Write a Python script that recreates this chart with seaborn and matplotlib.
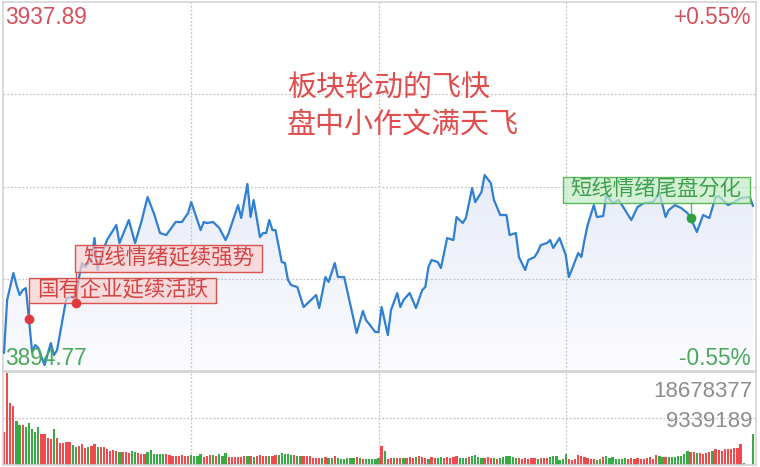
import numpy as np
import pandas as pd
import matplotlib
matplotlib.use('Agg')
import matplotlib.pyplot as plt
import matplotlib.transforms as mtransforms
from matplotlib.patches import Rectangle
import seaborn as sns

sns.set_style('white')
plt.rcParams['font.family'] = ['Liberation Sans', 'Noto Sans CJK SC', 'DejaVu Sans']
CJK = ['Noto Sans CJK SC', 'DejaVu Sans']

# ---------------- data ----------------
price_high = 3937.89
price_low = 3894.77
pct_high = '+0.55%'
pct_low = '-0.55%'
vol_max = 18678377
vol_mid = 9339189

minutes = [0, 1, 3, 4, 5, 6, 7, 8, 9, 10, 11, 12, 13, 15, 16, 17, 20, 22, 23, 24, 25, 26, 28, 29, 30,
           31, 33, 36, 37, 40, 42, 44, 46, 48, 50, 52, 55, 57, 59,
           60, 63, 64, 65, 67, 69, 71, 72, 75, 76, 78, 79, 80, 82, 83, 84, 85, 86, 87, 89, 90, 91, 92,
           94, 96, 100, 101, 103, 104, 106, 107, 109, 113, 115, 116, 119,
           120, 121, 123, 124, 126, 127, 128, 130, 132, 134, 135, 136, 137, 139, 140, 142, 144, 145,
           147, 148, 150, 151, 153, 154, 156, 157, 159, 161, 162, 164, 165, 167, 168, 170, 171, 172,
           174, 175, 176, 178, 180,
           181, 184, 185, 186, 187, 189, 190, 192, 193, 195, 197, 201, 203, 205, 208, 210, 212, 213,
           215, 217, 219, 220, 222, 224, 226, 228, 229, 232, 234, 236, 239, 240]
prices = [3896.87, 3903.06, 3906.22, 3904.81, 3903.65, 3904.23, 3904.46, 3900.84, 3896.99, 3897.80,
          3897.45, 3896.40, 3895.47, 3898.04, 3896.63, 3897.22, 3903.30, 3903.41, 3902.71, 3905.63,
          3907.39, 3906.92, 3907.74, 3910.31, 3906.57, 3908.09, 3910.07, 3911.83, 3909.72, 3912.41,
          3909.72, 3912.18, 3915.10, 3913.23, 3910.89, 3910.66, 3912.18, 3912.18, 3913.23,
          3914.51, 3911.24, 3912.18, 3912.06, 3912.18, 3911.48, 3910.07, 3910.89, 3914.16, 3912.65,
          3916.62, 3912.76, 3914.75, 3910.42, 3910.89, 3910.89, 3912.41, 3911.24, 3911.24, 3907.50,
          3907.39, 3905.40, 3904.81, 3904.58, 3902.24, 3903.65, 3902.13, 3905.75, 3905.17, 3907.39,
          3905.75, 3905.75, 3899.21, 3901.78, 3900.72, 3899.32,
          3899.32, 3902.24, 3898.97, 3901.89, 3903.88, 3902.24, 3903.06, 3903.88, 3902.13, 3904.23,
          3904.58, 3906.92, 3907.74, 3907.50, 3906.80, 3910.31, 3910.07, 3912.76, 3912.06, 3912.65,
          3916.15, 3914.51, 3915.68, 3917.67, 3916.73, 3914.75, 3913.00, 3913.00, 3910.66, 3910.89,
          3908.09, 3906.57, 3907.74, 3908.09, 3908.67, 3909.49, 3909.72, 3910.07, 3909.14, 3910.31,
          3908.32,
          3905.75, 3908.55, 3908.09, 3910.07, 3911.83, 3914.16, 3912.76, 3912.88, 3915.33, 3914.40,
          3914.75, 3912.41, 3913.93, 3914.40, 3914.51, 3915.57, 3912.76, 3913.58, 3914.16, 3913.81,
          3913.23, 3912.65, 3911.01, 3913.00, 3912.65, 3915.10, 3915.22, 3914.16, 3914.51, 3914.98,
          3915.10, 3914.05]

# volume per minute (millions), minute 0..240
volumes_m = [6.6, 18.4, 12.4, 11.8, 8.9, 8.1, 8.0, 7.7, 8.4, 7.2,
             6.6, 7.7, 6.3, 6.2, 5.5, 5.2, 7.2, 5.4, 4.5, 4.5,
             4.6, 4.6, 4.0, 3.7, 3.9, 4.2, 3.5, 3.6, 3.9, 4.2,
             3.7, 3.7, 3.7, 3.2, 2.9, 3.0, 2.9, 2.7, 2.6, 2.6,
             2.5, 2.9, 2.7, 2.5, 2.3, 2.3, 2.7, 3.0, 2.3, 2.2,
             2.3, 2.3, 2.3, 2.0, 1.8, 1.8, 1.9, 2.0, 1.8, 1.8,
             2.0, 1.8, 1.9, 2.3, 1.6, 1.8, 2.0, 2.0, 1.8, 2.2,
             1.8, 2.5, 1.6, 1.6, 1.6, 1.6, 1.7, 1.8, 1.8, 1.8,
             1.6, 1.8, 2.0, 1.9, 1.8, 1.9, 1.8, 2.0, 2.0, 2.4,
             2.2, 2.2, 2.0, 2.0, 1.9, 1.9, 1.8, 1.8, 1.8, 1.5,
             1.5, 1.5, 1.5, 1.6, 1.5, 1.4, 1.8, 1.4, 1.2, 1.3,
             1.4, 1.4, 1.5, 1.6, 1.5, 1.3, 1.2, 1.2, 1.2, 1.2,
             1.5, 3.8, 2.9,
             1.3, 1.4, 1.5, 1.4, 1.5, 1.4, 1.5, 1.6, 1.5, 1.7,
             1.8, 1.7, 1.5, 1.3, 1.6, 1.5, 1.4, 1.6, 1.5, 1.7,
             1.5, 1.6, 1.8, 1.5, 1.4, 1.5, 1.7, 1.9, 2.0, 1.7,
             1.5, 1.4, 1.6, 1.5, 1.4, 1.3, 1.5, 1.6, 1.9, 1.8,
             1.7, 1.5, 1.4, 1.3, 1.4, 1.3, 1.4, 1.5, 1.3, 1.4,
             1.5, 1.4, 1.6, 1.8, 1.9,
             1.1, 1.3, 2.3, 1.3, 1.1, 1.3, 2.0, 1.8, 1.6, 1.5,
             1.3, 1.3, 1.1, 1.3, 1.6, 1.8, 1.5, 1.6, 1.3, 1.3,
             1.3, 1.4, 1.3, 1.5, 1.3, 1.5, 1.3, 1.3, 1.4, 1.6,
             1.3, 2.0, 1.8, 1.6, 1.7, 1.6, 1.7, 1.6, 1.8, 1.9,
             2.3, 2.8, 2.6, 2.6, 2.4, 2.5, 2.3, 2.4, 2.6, 2.9,
             3.3, 3.1, 2.9, 3.2, 3.3, 3.2, 3.4, 3.5, 4.3, 0.4,
             0.0, 0.0, 6.3]
vol_dirs = ("rrrrggrggg" "ggrrrrgrrr" "rrggrrrgrr" "grrrrrrgrr" "rggrrrgggg"
            "ggrrrrrrrr" "ggggrrrgrg" "ggrrrrrrgr" "grrrrgrrgg" "gggrggrrrr"
            "rrgrggrggg" "gggrgrgggg" "g"
            "rg"
            "rrgrrgrrrg" "rrrgrrggrr" "rrrgggrggg" "grrrgrgggg" "ggrrrrrrgr" "rrggg"
            "gggrrrrrrr" "rrggrggggg" "ggrrrrrrrr" "rrggrggggg" "ggrrgrrrrg" "rrrrrrrrrg"
            "ggg")

title_lines = ['板块轮动的飞快', '盘中小作文满天飞']
notes = ['国有企业延续活跃', '短线情绪延续强势', '短线情绪尾盘分化']
note_minutes = [8, 23, 220]
note_kinds = ['up', 'up', 'down']

# ---------------- styling ----------------
LINE = '#2f7fd2'
RED_TXT = '#d4505a'
GREEN_TXT = '#4aa85c'
BAR_RED = '#ef4b4f'
BAR_GREEN = '#38aa46'
GRID = '#c4c4c4'
SPINE = '#d4d4d4'

W, H = 760, 467
fig = plt.figure(figsize=(W / 100, H / 100), dpi=100)


def rect(x0, y0, x1, y1):
    return [x0 / W, 1 - y1 / H, (x1 - x0) / W, (y1 - y0) / H]


ax = fig.add_axes(rect(3, 2, 756, 371))
axv = fig.add_axes(rect(3, 372, 756, 465))
xlim = (-0.32, 240.96)

# ---- price panel ----
df_p = pd.DataFrame({'minute': minutes, 'price': prices})
poly = ax.fill_between(df_p['minute'], df_p['price'], price_low, color='none', lw=0)
grad = np.linspace(0, 1, 256)[:, None, None]
top_c = np.array([212, 221, 241]) / 255
bot_c = np.array([252, 252, 255]) / 255
img = bot_c * (1 - grad) + top_c * grad
im = ax.imshow(img, extent=[xlim[0], xlim[1], price_low, price_high], origin='lower',
               aspect='auto', zorder=0.2)
im.set_clip_path(poly.get_paths()[0], transform=ax.transData)

sns.lineplot(data=df_p, x='minute', y='price', ax=ax, color=LINE, linewidth=1.6, zorder=3)

ax.set_xlim(*xlim)
ax.set_ylim(price_low, price_high)
ax.set_xticks([60, 120, 180])
ax.set_yticks(np.linspace(price_low, price_high, 5)[1:-1])
ax.tick_params(length=0, labelbottom=False, labelleft=False)
ax.grid(True, color=GRID, linestyle=(0, (1.5, 1.5)), linewidth=0.9)
ax.set_axisbelow(True)
ax.set_xlabel('')
ax.set_ylabel('')
for s in ax.spines.values():
    s.set_color(SPINE)
    s.set_linewidth(1.2)

# corner labels
fs_num = 16.3
fig.text(5 / W, 1 - 24 / H, f'{price_high:.2f}', color=RED_TXT, fontsize=fs_num, va='baseline', ha='left', zorder=1)
fig.text(751 / W, 1 - 24 / H, pct_high, color=RED_TXT, fontsize=fs_num, va='baseline', ha='right')
fig.text(5 / W, 1 - 365 / H, f'{price_low:.2f}', color=GREEN_TXT, fontsize=fs_num, va='baseline', ha='left', zorder=1)
fig.text(751 / W, 1 - 365 / H, pct_low, color=GREEN_TXT, fontsize=fs_num, va='baseline', ha='right')

# headline
fig.text(287 / W, 1 - 88.5 / H, title_lines[0], color='#e04d4d', fontsize=20.9, family=CJK,
         va='center', ha='left')
fig.text(287 / W, 1 - 126 / H, title_lines[1], color='#e04d4d', fontsize=20.9, family=CJK,
         va='center', ha='left')

# annotations: box layout in pixels relative to the marked point
layouts = [  # left, bottom, width, height, text-center-x, text-center-y
    (0, 16, 187, 25, 93.5, 28.5),
    (-1, 31, 187, 27, 92.5, 44.5),
    (-128, 15, 187, 26, -34.5, 28),
]
price_at = dict(zip(minutes, prices))
for text, m, kind, lay in zip(notes, note_minutes, note_kinds, layouts):
    p = price_at[m]
    if kind == 'up':
        face, edge, tcol, dot = '#f8d0d0', '#d9534f', '#d64545', '#e0393e'
    else:
        face, edge, tcol, dot = '#c6ecc6', '#5cb85c', '#3f9f4f', '#2ea043'
    trans = fig.dpi_scale_trans + mtransforms.ScaledTranslation(m, p, ax.transData)
    l, b, w, h, tx, ty = lay
    ax.add_patch(Rectangle((l / 100, b / 100), w / 100, h / 100, transform=trans,
                           facecolor=face, alpha=0.72, edgecolor='none', zorder=4, clip_on=False))
    ax.add_patch(Rectangle((l / 100, b / 100), w / 100, h / 100, transform=trans,
                           facecolor='none', edgecolor=edge, lw=1.0, zorder=4.5, clip_on=False))
    ax.plot([0, 0], [0, b / 100], color=edge, lw=1.0, transform=trans, zorder=4.5)
    ax.plot([m], [p], marker='o', ms=7, color=dot, zorder=5, mec='none')
    ax.text(tx / 100, ty / 100, text, transform=trans, ha='center', va='center',
            fontsize=15.4, color=tcol, family=CJK, zorder=6)

# ---- volume panel ----
n = min(len(volumes_m), len(vol_dirs))
df_v = pd.DataFrame({'minute': np.arange(n), 'vol': volumes_m[:n],
                     'dir': list(vol_dirs[:n])})
sns.barplot(data=df_v, x='minute', y='vol', hue='dir', palette={'r': BAR_RED, 'g': BAR_GREEN},
            native_scale=True, width=0.72, dodge=False, errorbar=None, legend=False,
            saturation=1, linewidth=0, ax=axv, zorder=2)
axv.set_xlim(*xlim)
axv.set_ylim(0, vol_max / 1e6)
axv.set_xticks([60, 120, 180])
axv.set_yticks([vol_mid / 1e6])
axv.tick_params(length=0, labelbottom=False, labelleft=False)
axv.grid(True, color=GRID, linestyle=(0, (1.5, 1.5)), linewidth=0.9)
axv.set_axisbelow(True)
axv.set_xlabel('')
axv.set_ylabel('')
for s in axv.spines.values():
    s.set_color(SPINE)
    s.set_linewidth(1.2)

fig.text(752 / W, 1 - 397 / H, str(vol_max), color='#8c8c8c', fontsize=16, va='baseline', ha='right')
fig.text(752 / W, 1 - 427 / H, str(vol_mid), color='#8c8c8c', fontsize=16, va='baseline', ha='right')

fig.savefig('out.png', dpi=100)
